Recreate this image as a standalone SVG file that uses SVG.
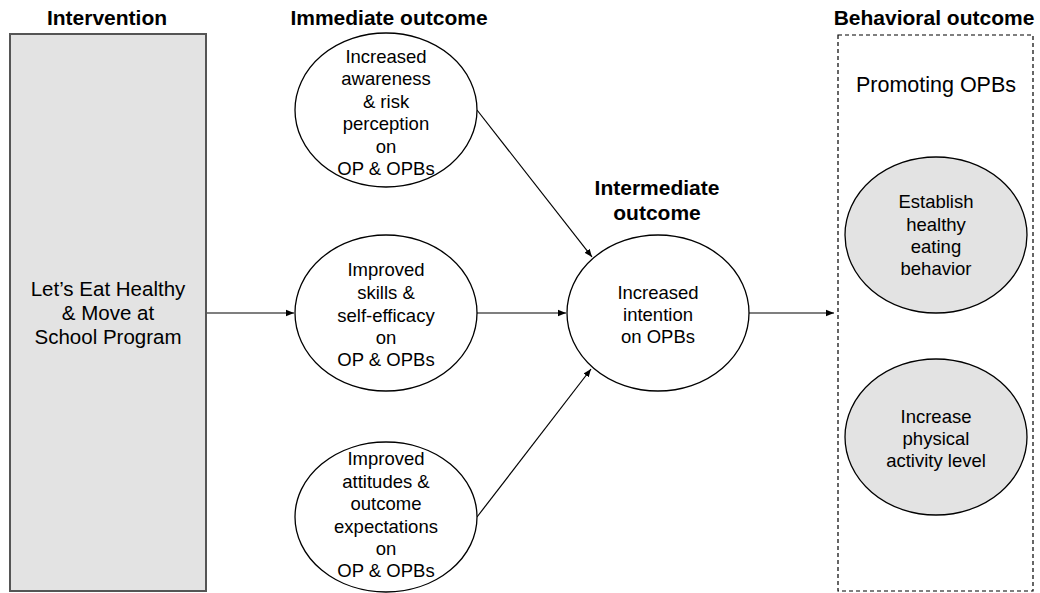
<svg xmlns="http://www.w3.org/2000/svg" width="1040" height="593" viewBox="0 0 1040 593">
  <defs>
    <marker id="arrow" viewBox="0 0 10 10" refX="10" refY="5" markerWidth="8" markerHeight="8" markerUnits="userSpaceOnUse" orient="auto">
      <path d="M0,1 L10,5 L0,9 z" fill="#000"/>
    </marker>
  </defs>
  <style>
    .hdr { font-family: "Liberation Sans", Arial, sans-serif; font-weight: bold; font-size: 21px; fill: #000; text-anchor: middle; }
    .lbl { font-family: "Liberation Sans", Arial, sans-serif; font-size: 18.5px; fill: #000; text-anchor: middle; }
    .big { font-size: 20.5px; }
    .title { font-size: 21.5px; }
    .oval { fill: #fff; stroke: #000; stroke-width: 1.3; }
    .goal { fill: #e3e3e3; stroke: #000; stroke-width: 1.3; }
    .edge { fill: none; stroke: #000; stroke-width: 1.2; marker-end: url(#arrow); }
  </style>
  <rect width="1040" height="593" fill="#fff"/>

  <!-- column headings -->
  <g id="headings">
    <text class="hdr" x="107" y="25">Intervention</text>
    <text class="hdr" x="389" y="25">Immediate outcome</text>
    <text class="hdr" x="934" y="25">Behavioral outcome</text>
    <text class="hdr" x="657" y="195">Intermediate</text>
    <text class="hdr" x="657" y="220">outcome</text>
  </g>

  <!-- connectors -->
  <g id="connectors">
    <line class="edge" x1="206" y1="313" x2="294" y2="313"/>
    <line class="edge" x1="477" y1="313" x2="566" y2="313"/>
    <line class="edge" x1="477" y1="110" x2="592" y2="257"/>
    <line class="edge" x1="477" y1="517" x2="591" y2="369"/>
    <line class="edge" x1="749" y1="313" x2="834" y2="313"/>
  </g>

  <g id="intervention">
    <rect x="10" y="34" width="196" height="557" fill="#e3e3e3" stroke="#555" stroke-width="2"/>
    <text class="lbl big" x="108" y="296">Let’s Eat Healthy</text>
    <text class="lbl big" x="108" y="320">&amp; Move at</text>
    <text class="lbl big" x="108" y="344">School Program</text>
  </g>

  <g id="awareness">
    <ellipse class="oval" cx="386" cy="110" rx="91" ry="77"/>
    <text class="lbl" x="386" y="63">Increased</text>
    <text class="lbl" x="386" y="85">awareness</text>
    <text class="lbl" x="386" y="108">&amp; risk</text>
    <text class="lbl" x="386" y="130">perception</text>
    <text class="lbl" x="386" y="153">on</text>
    <text class="lbl" x="386" y="175">OP &amp; OPBs</text>
  </g>

  <g id="skills">
    <ellipse class="oval" cx="386" cy="313" rx="91" ry="78"/>
    <text class="lbl" x="386" y="276">Improved</text>
    <text class="lbl" x="386" y="299">skills &amp;</text>
    <text class="lbl" x="386" y="322">self-efficacy</text>
    <text class="lbl" x="386" y="344">on</text>
    <text class="lbl" x="386" y="366">OP &amp; OPBs</text>
  </g>

  <g id="attitudes">
    <ellipse class="oval" cx="386" cy="517" rx="91" ry="75"/>
    <text class="lbl" x="386" y="465">Improved</text>
    <text class="lbl" x="386" y="488">attitudes &amp;</text>
    <text class="lbl" x="386" y="510">outcome</text>
    <text class="lbl" x="386" y="533">expectations</text>
    <text class="lbl" x="386" y="555">on</text>
    <text class="lbl" x="386" y="577">OP &amp; OPBs</text>
  </g>

  <g id="intention">
    <ellipse class="oval" cx="658" cy="313" rx="91" ry="78"/>
    <text class="lbl" x="658" y="299">Increased</text>
    <text class="lbl" x="658" y="321">intention</text>
    <text class="lbl" x="658" y="343">on OPBs</text>
  </g>

  <g id="behavioral">
    <rect x="838" y="35" width="195" height="556" fill="none" stroke="#000" stroke-width="1.2" stroke-dasharray="4,3"/>
    <text class="lbl title" x="936" y="92">Promoting OPBs</text>
  </g>

  <g id="eating">
    <ellipse class="goal" cx="936" cy="235" rx="91" ry="78"/>
    <text class="lbl" x="936" y="208">Establish</text>
    <text class="lbl" x="936" y="231">healthy</text>
    <text class="lbl" x="936" y="253">eating</text>
    <text class="lbl" x="936" y="275">behavior</text>
  </g>

  <g id="activity">
    <ellipse class="goal" cx="936" cy="437" rx="91" ry="78"/>
    <text class="lbl" x="936" y="423">Increase</text>
    <text class="lbl" x="936" y="445">physical</text>
    <text class="lbl" x="936" y="467">activity level</text>
  </g>
</svg>
